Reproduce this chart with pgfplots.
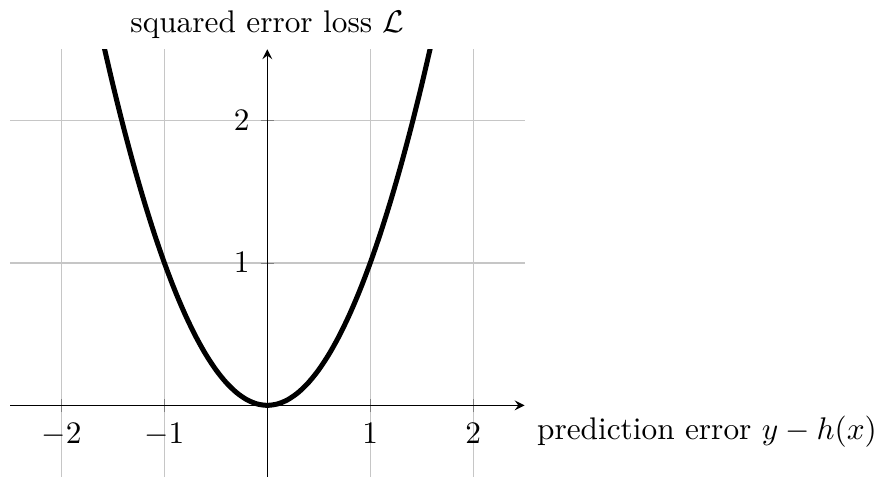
\documentclass[border=0pt]{standalone}
\usepackage{pgfplots}
\pgfplotsset{compat=1.18}
\begin{document}
\begin{tikzpicture}
  \begin{axis}[
      scale only axis,
      width=164.4pt, height=136.5pt,
      axis lines=middle,
      xmin=-2.5, xmax=2.5,
      ymin=-0.5, ymax=2.5,
      xtick={-2,-1,1,2},
      ytick={1,2},
      grid=major,
      grid style={gray!45},
      xlabel={prediction error $y - h(x)$},
      ylabel={squared error loss $\mathcal{L}$},
      xlabel style={at={(axis cs:2.5,0)}, anchor=north west,
        inner xsep=1pt, xshift=2.8pt},
      ylabel style={at={(axis cs:0,2.5)}, anchor=south},
    ]
    \addplot[black, ultra thick, smooth] coordinates {
      (-1.6,2.56)(-1.5,2.25)(-1.4,1.96)(-1.3,1.69)(-1.2,1.44)(-1.1,1.21)
      (-1.0,1.00)(-0.9,0.81)(-0.8,0.64)(-0.7,0.49)(-0.6,0.36)(-0.5,0.25)
      (-0.4,0.16)(-0.3,0.09)(-0.2,0.04)(-0.1,0.01)(0,0)
      (0.1,0.01)(0.2,0.04)(0.3,0.09)(0.4,0.16)(0.5,0.25)(0.6,0.36)
      (0.7,0.49)(0.8,0.64)(0.9,0.81)(1.0,1.00)(1.1,1.21)(1.2,1.44)
      (1.3,1.69)(1.4,1.96)(1.5,2.25)(1.6,2.56)
    };
  \end{axis}
  % a little room on the left and on top, as in the reference
  \path ([xshift=-3.2pt]current axis.west);
  \path ([yshift=1.3pt]current axis.north);
\end{tikzpicture}
\end{document}
